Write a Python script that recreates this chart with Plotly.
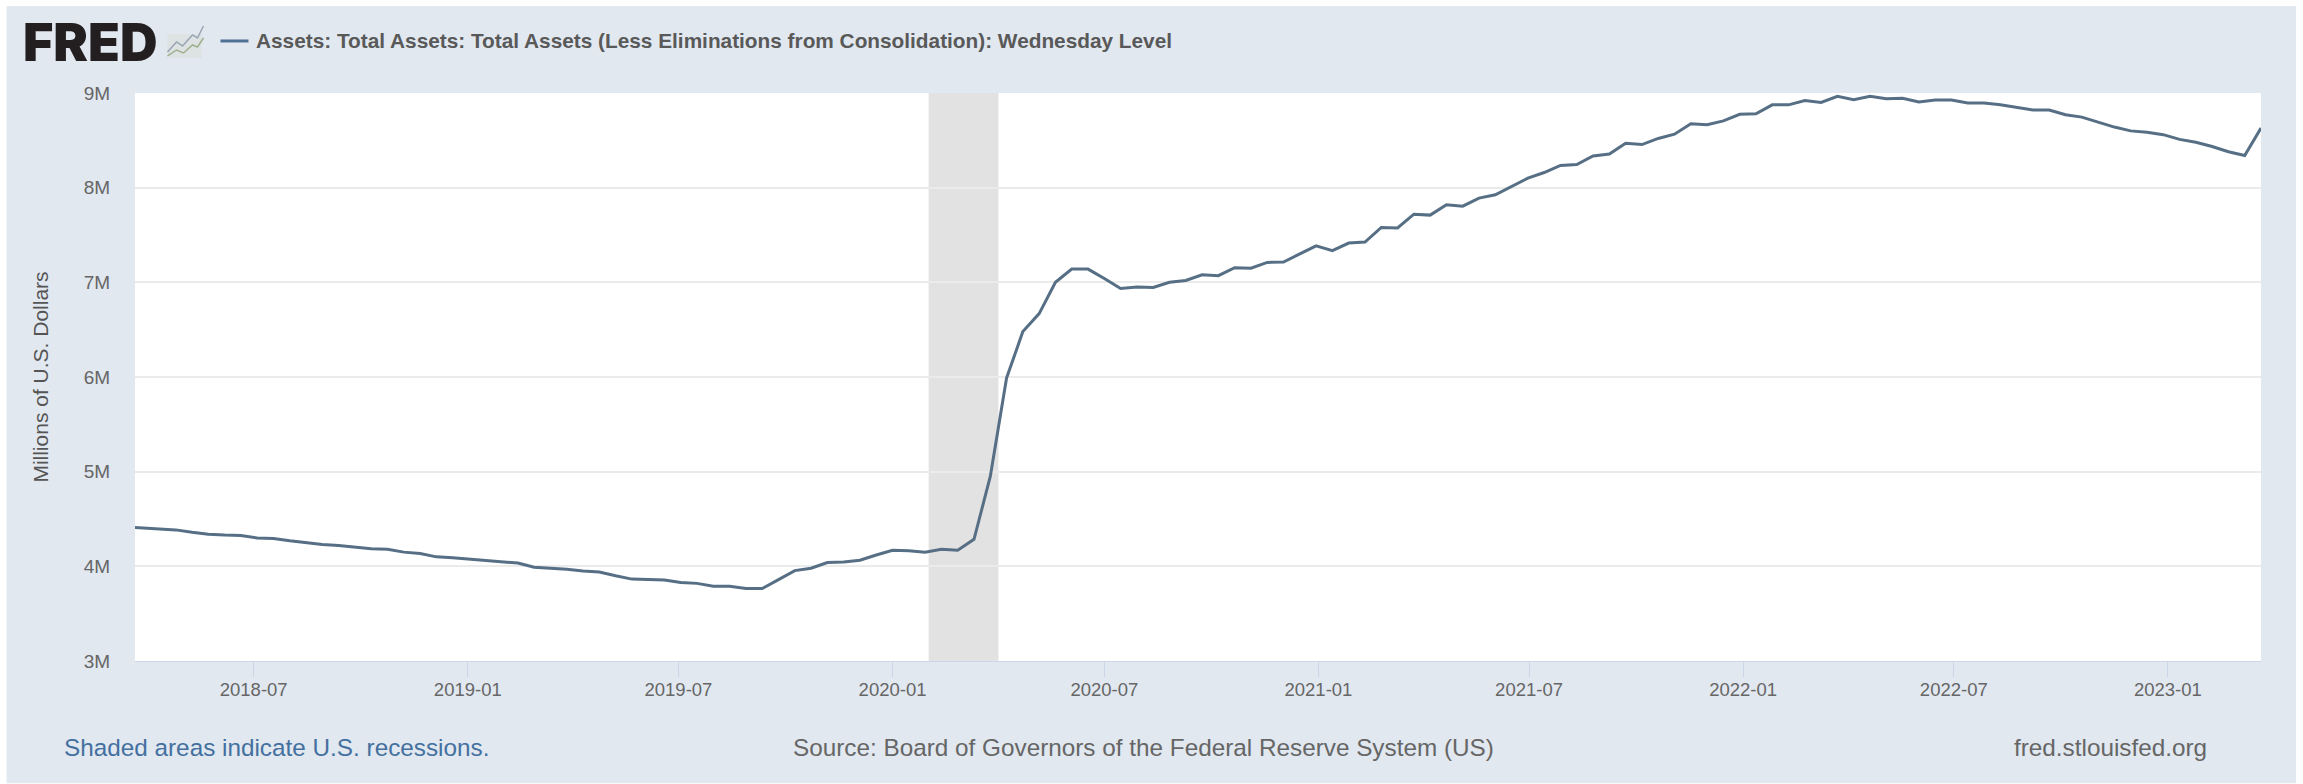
import pandas as pd
import plotly.graph_objects as go

W, H = 2303, 784
L, R, T, B = 134.5, 2261, 93, 660.7

SERIES_NAME = "Assets: Total Assets: Total Assets (Less Eliminations from Consolidation): Wednesday Level"
Y_TITLE = "Millions of U.S. Dollars"
X_TICKS = ["2018-07-01", "2019-01-01", "2019-07-01", "2020-01-01", "2020-07-01",
           "2021-01-01", "2021-07-01", "2022-01-01", "2022-07-01", "2023-01-01"]
X_RANGE = ["2018-03-21", "2023-03-22"]
RECESSION = ["2020-02-01", "2020-04-01"]

# Levels, in the axis' own "M" units
values = [
    4.41,
    4.405, 4.40, 4.385, 4.36, 4.34, 4.33, 4.325, 4.30, 4.295, 4.27,
    4.25, 4.23, 4.22, 4.205, 4.185, 4.18, 4.15, 4.135, 4.10, 4.09,
    4.075, 4.06, 4.05, 4.035, 3.99, 3.98, 3.97, 3.95, 3.94, 3.90,
    3.865, 3.86, 3.855, 3.83, 3.82, 3.79, 3.79, 3.765, 3.765, 3.86,
    3.955, 3.98, 4.04, 4.045, 4.065, 4.12, 4.17, 4.165, 4.15, 4.18,
    4.17, 4.285, 4.95, 5.99, 6.48, 6.67, 7.00, 7.14, 7.14, 7.04,
    6.935, 6.95, 6.945, 7.00, 7.02, 7.08, 7.07, 7.155, 7.15, 7.21,
    7.215, 7.30, 7.385, 7.335, 7.415, 7.425, 7.58, 7.575, 7.72, 7.71,
    7.82, 7.805, 7.89, 7.925, 8.015, 8.10, 8.16, 8.235, 8.245, 8.335,
    8.355, 8.47, 8.455, 8.52, 8.565, 8.675, 8.665, 8.705, 8.775, 8.78,
    8.875, 8.875, 8.92, 8.90, 8.965, 8.93, 8.965, 8.94, 8.945, 8.905,
    8.925, 8.925, 8.895, 8.895, 8.875, 8.845, 8.82, 8.82, 8.77, 8.745,
    8.69, 8.64, 8.60, 8.585, 8.56, 8.51, 8.48, 8.435, 8.38, 8.34,
    8.63,
]
dates = [pd.Timestamp("2018-03-21")] + list(pd.date_range("2018-03-28", "2023-03-22", freq="14D"))


def px(x):
    return (x - L) / (R - L)


def py(y):
    return (B - y) / (B - T)


def path(points):
    return "M " + " L ".join(f"{px(a):.5f},{py(b):.5f}" for a, b in points)


PANEL = "#e1e8f0"
TXT = "#666666"
LINE = "#566f85"

fig = go.Figure()
fig.add_trace(go.Scatter(x=dates, y=values[:len(dates)], mode="lines", name=SERIES_NAME,
                         line=dict(color=LINE, width=3), showlegend=False))

shapes = [
    dict(type="rect", xref="paper", yref="paper", x0=px(6), x1=px(2296), y0=py(783), y1=py(6),
         fillcolor=PANEL, line_width=0, layer="below"),
    dict(type="rect", xref="paper", yref="paper", x0=0, x1=1, y0=0, y1=1,
         fillcolor="#ffffff", line_width=0, layer="below"),
    dict(type="rect", xref="x", yref="paper", x0=RECESSION[0], x1=RECESSION[1], y0=0, y1=1,
         fillcolor="#e2e2e2", line_width=0, layer="between"),
    # legend key
    dict(type="line", xref="paper", yref="paper", x0=px(220), x1=px(248), y0=py(41), y1=py(41),
         line=dict(color="#4f7196", width=3)),
    # logo icon
    dict(type="rect", xref="paper", yref="paper", x0=px(167), x1=px(201), y0=py(58), y1=py(34),
         fillcolor="#dde3e2", line_width=0),
    dict(type="path", xref="paper", yref="paper",
         path=path([(167, 52), (176, 42), (182, 46), (192, 35), (197, 38), (203, 26)]),
         line=dict(color="#9aa6b4", width=1.5)),
    dict(type="path", xref="paper", yref="paper",
         path=path([(167, 56), (176, 50), (183, 53), (192, 45), (197, 47), (203, 38)]),
         line=dict(color="#9fb08f", width=1.5)),
]

annotations = [
    dict(text="FRED", x=px(21), y=py(43), xanchor="left", yanchor="middle",
         font=dict(family="Inter", size=52, weight=900, color="#231f20")),
    dict(text=f"<b>{SERIES_NAME}</b>", x=px(255), y=py(41), xanchor="left", yanchor="middle",
         font=dict(family="Liberation Sans", size=20.8, color="#595959")),
    dict(text="Shaded areas indicate U.S. recessions.", x=px(62), y=py(747), xanchor="left", yanchor="middle",
         font=dict(family="Liberation Sans", size=24.3, color="#44709f")),
    dict(text="Source: Board of Governors of the Federal Reserve System (US)", x=px(792), y=py(747),
         xanchor="left", yanchor="middle", font=dict(family="Liberation Sans", size=24.3, color=TXT)),
    dict(text="fred.stlouisfed.org", x=px(2208), y=py(747), xanchor="right", yanchor="middle",
         font=dict(family="Liberation Sans", size=24.3, color=TXT)),
]
for a in annotations:
    a.update(xref="paper", yref="paper", showarrow=False, borderpad=0)

fig.update_layout(
    width=W, height=H, autosize=False,
    margin=dict(l=L, r=W - R, t=T, b=H - B, pad=0),
    paper_bgcolor="#ffffff", plot_bgcolor="rgba(0,0,0,0)",
    shapes=shapes, annotations=annotations, showlegend=False,
    font=dict(family="Liberation Sans", color=TXT),
    xaxis=dict(type="date", range=X_RANGE, tickvals=X_TICKS, tickformat="%Y-%m", ticks="outside",
               ticklen=15, tickwidth=1, tickcolor="#ccd6eb", ticklabelstandoff=-3, showgrid=False,
               showline=True, linecolor="#ccd6eb", linewidth=1, zeroline=False,
               tickfont=dict(size=18.5, color=TXT)),
    yaxis=dict(range=[3, 9], dtick=1, ticksuffix="M", ticks="outside", ticklen=20, tickcolor="rgba(0,0,0,0)",
               showgrid=True, gridcolor="#ebebeb", gridwidth=1.5, zeroline=False, showline=False,
               tickfont=dict(size=19, color=TXT),
               title=dict(text=Y_TITLE, font=dict(size=21, color="#555555"), standoff=29)),
)

fig.write_html("out.html", config={"displayModeBar": False},
               post_script="document.body.style.margin='0';document.body.style.overflow='hidden';")
